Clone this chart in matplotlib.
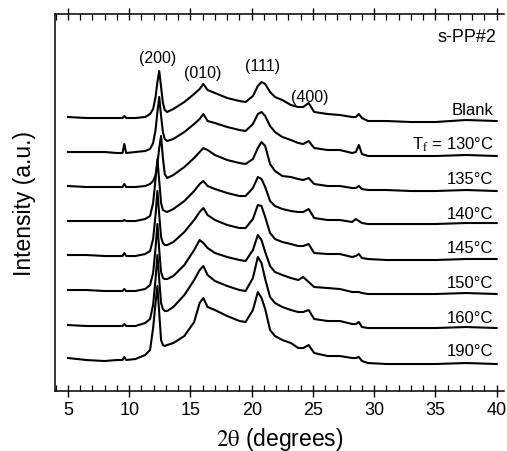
import numpy as np
import matplotlib
matplotlib.use("Agg")
import matplotlib.pyplot as plt
from matplotlib.ticker import MultipleLocator, NullLocator

plt.rcParams['font.family'] = ['Liberation Sans', 'DejaVu Sans']
plt.rcParams['mathtext.fontset'] = 'stix'

# 2theta sample points (degrees), shared by all patterns
two_theta = [5, 6.5, 8, 9.0, 9.45, 9.6, 9.75, 10.5, 11.3, 11.7,
             11.95, 12.15, 12.3, 12.45, 12.6, 12.75, 12.9, 13.1, 13.6, 14.5,
             15.3, 15.75, 16.05, 16.4, 17.0, 18.0, 19.0, 19.5, 20.1, 20.5,
             20.8, 21.1, 21.5, 21.9, 22.5, 23.2, 23.8, 24.2, 24.65, 25.1,
             26.2, 27.2, 28.2, 28.5, 28.75, 29.0, 29.5, 31, 33, 35,
             37.5, 40]

# intensities (a.u.), each relative to its own baseline
blank = [0, -1, -1, -1, -1, 1, -1, -1, 0, 3,
         8, 20, 35, 46, 30, 14, 7, 5, 8, 15,
         23, 28, 33, 27, 24, 19, 16, 15, 21, 31,
         35, 33, 25, 20, 17, 12, 10, 10, 14, 5,
         3, 2, 0, 0, 3, -1, -4, -4, -5, -5,
         -3, -4]
tf130 = [0, 0, 0, -1, -1, 8, -1, 0, 1, 3,
         9, 22, 40, 55, 36, 20, 13, 11, 13, 20,
         28, 33, 38, 31, 29, 25, 22, 21, 28, 38,
         40, 36, 26, 20, 15, 12, 9, 8, 11, 4,
         2, 2, -1, 0, 7, -2, -4, -4, -4, -4,
         -3, -4]
tf135 = [0, -1, -1, -1, -1, 2, -1, -1, 0, 2,
         5, 11, 22, 38, 50, 28, 12, 8, 11, 19,
         28, 34, 38, 36, 31, 26, 23, 22, 27, 38,
         44, 40, 22, 15, 10, 9, 7, 6, 8, 2,
         0, 0, -2, -2, 0, -3, -4, -4, -5, -5,
         -4, -5]
tf140 = [0, 0, 0, 0, 0, 1, 0, 0, 2, 5,
         18, 42, 62, 40, 18, 11, 10, 9, 12, 20,
         30, 37, 40, 35, 32, 28, 25, 25, 33, 44,
         42, 34, 20, 15, 12, 10, 9, 9, 12, 3,
         1, 1, -1, 2, 0, -2, -3, -3, -3, -3,
         -2, -2]
tf145 = [0, 0, -1, -1, -1, 2, -1, -1, 1, 4,
         16, 40, 64, 40, 18, 12, 10, 10, 13, 23,
         35, 43, 47, 40, 35, 30, 27, 27, 36, 50,
         49, 38, 22, 16, 13, 11, 9, 9, 11, 2,
         1, 1, -2, -1, 1, -3, -4, -5, -5, -5,
         -4, -4]
tf150 = [0, 0, -1, -1, -1, 1, -1, -1, 1, 5,
         17, 42, 66, 40, 18, 12, 11, 11, 14, 25,
         40, 50, 47, 42, 37, 33, 30, 29, 40, 55,
         50, 38, 24, 18, 15, 12, 10, 13, 8, 3,
         2, 1, -2, -2, -2, -3, -4, -4, -4, -4,
         -3, -4]
tf160 = [0, -1, -1, -1, -1, 1, -1, -1, 2, 6,
         20, 46, 70, 45, 22, 16, 14, 14, 18, 30,
         45, 55, 59, 50, 44, 39, 35, 34, 47, 68,
         62, 46, 28, 22, 18, 15, 13, 13, 15, 6,
         4, 4, 1, 1, 3, -2, -3, -3, -3, -3,
         -2, -3]
tf190 = [0, -2, -3, -2, -2, 1, -2, -1, 3, 8,
         30, 55, 72, 45, 18, 13, 12, 13, 15, 22,
         36, 55, 60, 51, 48, 42, 37, 36, 48, 66,
         60, 49, 28, 22, 18, 15, 10, 10, 13, 5,
         2, 2, 0, 0, 1, -3, -5, -6, -6, -6,
         -5, -6]

patterns = [blank, tf130, tf135, tf140, tf145, tf150, tf160, tf190]
curve_labels = ['Blank', r'T$_\mathrm{f}$ = 130°C', '135°C', '140°C',
                '145°C', '150°C', '160°C', '190°C']
offsets = [241, 206, 172, 137, 103, 68, 33, 0]

peak_labels = ['(200)', '(010)', '(111)', '(400)']
peak_pos = [(12.3, 301), (16.0, 286), (20.85, 293), (24.7, 262)]

fig = plt.figure(figsize=(5.07, 4.52), dpi=100)
ax = fig.add_axes([0.1085, 0.1327, 0.8856, 0.8341])

for y, off, lab in zip(patterns, offsets, curve_labels):
    ax.plot(two_theta, np.array(y) + off, color='black', lw=1.5)
    ax.text(39.75, off + 8, lab, ha='right', va='center', fontsize=12)

for lab, (px, py) in zip(peak_labels, peak_pos):
    ax.text(px, py, lab, ha='center', va='center', fontsize=11.5)

ax.text(40.0, 322, 's-PP#2', ha='right', va='center', fontsize=13)

ax.set_xlim(3.94, 40.6)
ax.set_ylim(-33, 344)
ax.xaxis.set_major_locator(MultipleLocator(5))
ax.xaxis.set_minor_locator(MultipleLocator(1))
ax.yaxis.set_major_locator(NullLocator())
ax.tick_params(axis='x', which='major', direction='inout', length=8, width=1,
               top=True, labelsize=13, pad=3)
ax.tick_params(axis='x', which='minor', direction='in', length=4, width=0.9, top=True)
ax.spines['right'].set_visible(False)
for s in ['left', 'top', 'bottom']:
    ax.spines[s].set_linewidth(1.1)

ax.set_xlabel(r'$\mathrm{2\theta}$ (degrees)', fontsize=16.5, labelpad=5)
ax.set_ylabel('Intensity (a.u.)', fontsize=16.5, labelpad=14)

fig.savefig('out.png', dpi=100)
